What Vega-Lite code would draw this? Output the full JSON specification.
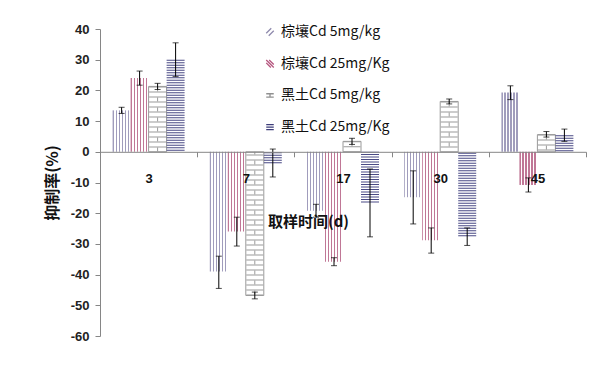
{
  "$schema": "https://vega.github.io/schema/vega-lite/v6.json",
  "width": 486,
  "height": 307,
  "autosize": {"type": "none"},
  "padding": {"left": 100, "top": 29, "right": 26, "bottom": 42},
  "background": "white",
  "config": {
    "view": {"stroke": null},
    "font": "Noto Sans CJK SC"
  },
  "data": {
    "values": [
      {"d": "3", "s": "棕壤Cd 5mg/kg", "v": 13.5, "lo": 12.5, "hi": 14.5},
      {"d": "3", "s": "棕壤Cd 25mg/Kg", "v": 24, "lo": 21.7, "hi": 26.3},
      {"d": "3", "s": "黑土Cd 5mg/kg", "v": 21.3, "lo": 20.3, "hi": 22.3},
      {"d": "3", "s": "黑土Cd 25mg/Kg", "v": 30, "lo": 24.5, "hi": 35.5},
      {"d": "7", "s": "棕壤Cd 5mg/kg", "v": -39, "lo": -44.5, "hi": -34},
      {"d": "7", "s": "棕壤Cd 25mg/Kg", "v": -26, "lo": -30.7, "hi": -21.3},
      {"d": "7", "s": "黑土Cd 5mg/kg", "v": -46.8, "lo": -47.9, "hi": -45.7},
      {"d": "7", "s": "黑土Cd 25mg/Kg", "v": -3.7, "lo": -8.2, "hi": 0.9},
      {"d": "17", "s": "棕壤Cd 5mg/kg", "v": -19.2, "lo": -21.3, "hi": -17.1},
      {"d": "17", "s": "棕壤Cd 25mg/Kg", "v": -35.8, "lo": -37.1, "hi": -34.5},
      {"d": "17", "s": "黑土Cd 5mg/kg", "v": 3.4, "lo": 2.4, "hi": 4.4},
      {"d": "17", "s": "黑土Cd 25mg/Kg", "v": -16.5, "lo": -27.7, "hi": -5.6},
      {"d": "30", "s": "棕壤Cd 5mg/kg", "v": -14.8, "lo": -23.5, "hi": -6.2},
      {"d": "30", "s": "棕壤Cd 25mg/Kg", "v": -28.8, "lo": -33, "hi": -24.8},
      {"d": "30", "s": "黑土Cd 5mg/kg", "v": 16.4, "lo": 15.6, "hi": 17.2},
      {"d": "30", "s": "黑土Cd 25mg/Kg", "v": -27.5, "lo": -30.5, "hi": -24.8},
      {"d": "45", "s": "棕壤Cd 5mg/kg", "v": 19.3, "lo": 17, "hi": 21.5},
      {"d": "45", "s": "棕壤Cd 25mg/Kg", "v": -10.8, "lo": -13.1, "hi": -8.5},
      {"d": "45", "s": "黑土Cd 5mg/kg", "v": 5.6, "lo": 4.8, "hi": 6.6},
      {"d": "45", "s": "黑土Cd 25mg/Kg", "v": 5.4, "lo": 3.4, "hi": 7.4}
    ]
  },
  "encoding": {
    "x": {
      "field": "d", "type": "nominal", "sort": ["3", "7", "17", "30", "45"],
      "scale": {"paddingInner": 0, "paddingOuter": 0},
      "axis": {
        "title": "取样时间(d)", "labelAngle": 0, "offset": -184.2, "zindex": 1,
        "tickBand": "extent", "tickSize": 5, "tickColor": "#868686", "domainColor": "#868686",
        "labelPadding": 16, "labelFont": "Liberation Sans", "labelFontWeight": "bold", "labelFontSize": 13, "labelColor": "#111",
        "titleFont": "Noto Sans CJK SC", "titleFontWeight": "bold", "titleFontSize": 15, "titleColor": "#111",
        "titleX": 208, "titleY": 70, "titleAlign": "center", "titleBaseline": "middle"
      }
    },
    "xOffset": {
      "field": "s", "type": "nominal",
      "sort": ["棕壤Cd 5mg/kg", "棕壤Cd 25mg/Kg", "黑土Cd 5mg/kg", "黑土Cd 25mg/Kg"],
      "scale": {"paddingInner": 0, "paddingOuter": 0.7}
    },
    "y": {
      "field": "v", "type": "quantitative",
      "scale": {"domain": [-60, 40], "nice": false},
      "axis": {
        "title": "抑制率(%)", "values": [-60, -50, -40, -30, -20, -10, 0, 10, 20, 30, 40], "grid": false,
        "labelExpr": "replace(datum.label, '−', '-')",
        "tickSize": 5, "tickColor": "#868686", "domainColor": "#868686", "labelPadding": 6,
        "labelFont": "Liberation Sans", "labelFontWeight": "bold", "labelFontSize": 13, "labelColor": "#222",
        "titleFont": "Noto Sans CJK SC", "titleFontWeight": "bold", "titleFontSize": 16, "titleColor": "#111", "titlePadding": 10
      }
    }
  },
  "layer": [
    {
      "transform": [{"filter": "datum.s === '棕壤Cd 5mg/kg'"}],
      "mark": {"type": "bar", "fill": {"gradient": "linear", "x1": 0, "y1": 0, "x2": 1, "y2": 0, "stops": [
        {"offset": 0, "color": "#a09cbc"}, {"offset": 0.07, "color": "#a09cbc"}, {"offset": 0.07, "color": "#ffffff"}, {"offset": 0.1667, "color": "#ffffff"},
        {"offset": 0.1667, "color": "#a09cbc"}, {"offset": 0.2367, "color": "#a09cbc"}, {"offset": 0.2367, "color": "#ffffff"}, {"offset": 0.3333, "color": "#ffffff"},
        {"offset": 0.3333, "color": "#a09cbc"}, {"offset": 0.4033, "color": "#a09cbc"}, {"offset": 0.4033, "color": "#ffffff"}, {"offset": 0.5, "color": "#ffffff"},
        {"offset": 0.5, "color": "#a09cbc"}, {"offset": 0.57, "color": "#a09cbc"}, {"offset": 0.57, "color": "#ffffff"}, {"offset": 0.6667, "color": "#ffffff"},
        {"offset": 0.6667, "color": "#a09cbc"}, {"offset": 0.7367, "color": "#a09cbc"}, {"offset": 0.7367, "color": "#ffffff"}, {"offset": 0.8333, "color": "#ffffff"},
        {"offset": 0.8333, "color": "#a09cbc"}, {"offset": 0.9033, "color": "#a09cbc"}, {"offset": 0.9033, "color": "#ffffff"}, {"offset": 1, "color": "#ffffff"}
      ]}},
      "encoding": {"y2": {"datum": 0}}
    },
    {
      "transform": [{"filter": "datum.s === '棕壤Cd 25mg/Kg'"}],
      "mark": {"type": "bar", "fill": {"gradient": "linear", "x1": 0, "y1": 0, "x2": 1, "y2": 0, "stops": [
        {"offset": 0, "color": "#c07796"}, {"offset": 0.07, "color": "#c07796"}, {"offset": 0.07, "color": "#ffffff"}, {"offset": 0.1667, "color": "#ffffff"},
        {"offset": 0.1667, "color": "#c07796"}, {"offset": 0.2367, "color": "#c07796"}, {"offset": 0.2367, "color": "#ffffff"}, {"offset": 0.3333, "color": "#ffffff"},
        {"offset": 0.3333, "color": "#c07796"}, {"offset": 0.4033, "color": "#c07796"}, {"offset": 0.4033, "color": "#ffffff"}, {"offset": 0.5, "color": "#ffffff"},
        {"offset": 0.5, "color": "#c07796"}, {"offset": 0.57, "color": "#c07796"}, {"offset": 0.57, "color": "#ffffff"}, {"offset": 0.6667, "color": "#ffffff"},
        {"offset": 0.6667, "color": "#c07796"}, {"offset": 0.7367, "color": "#c07796"}, {"offset": 0.7367, "color": "#ffffff"}, {"offset": 0.8333, "color": "#ffffff"},
        {"offset": 0.8333, "color": "#c07796"}, {"offset": 0.9033, "color": "#c07796"}, {"offset": 0.9033, "color": "#ffffff"}, {"offset": 1, "color": "#ffffff"}
      ]}},
      "encoding": {"y2": {"datum": 0}}
    },
    {
      "transform": [{"filter": "datum.s === '黑土Cd 5mg/kg'"}],
      "mark": {"type": "bar", "fill": "#ffffff", "stroke": "#9a9a9a", "strokeWidth": 1},
      "encoding": {"y2": {"datum": 0}}
    },
    {
      "transform": [{"filter": "datum.s === '黑土Cd 5mg/kg'"}],
      "mark": {"type": "rule", "stroke": "#9a9a9a", "strokeWidth": 17, "strokeDash": [1, 4]},
      "encoding": {"y2": {"datum": 0}}
    },
    {
      "transform": [{"filter": "datum.s === '黑土Cd 5mg/kg'"}],
      "mark": {"type": "rule", "stroke": "#9a9a9a", "strokeWidth": 1, "strokeDash": [4, 6], "strokeDashOffset": -1},
      "encoding": {"y2": {"datum": 0}}
    },
    {
      "transform": [{"filter": "datum.s === '黑土Cd 25mg/Kg'"}],
      "mark": {"type": "rule", "stroke": "#4a4a85", "strokeWidth": 18, "strokeDash": [1, 1.5]},
      "encoding": {"y2": {"datum": 0}}
    },
    {
      "mark": {"type": "rule", "stroke": "#000000", "strokeWidth": 1},
      "encoding": {"y": {"field": "lo", "type": "quantitative"}, "y2": {"field": "hi"}}
    },
    {
      "mark": {"type": "tick", "color": "#000000", "size": 6, "thickness": 1},
      "encoding": {"y": {"field": "lo", "type": "quantitative"}}
    },
    {
      "mark": {"type": "tick", "color": "#000000", "size": 6, "thickness": 1},
      "encoding": {"y": {"field": "hi", "type": "quantitative"}}
    },
    {
      "mark": {"type": "point", "filled": false, "opacity": 0},
      "encoding": {
        "color": {
          "field": "s", "type": "nominal",
          "scale": {"domain": ["棕壤Cd 5mg/kg", "棕壤Cd 25mg/Kg", "黑土Cd 5mg/kg", "黑土Cd 25mg/Kg"], "range": ["#8f8aad", "#b5557e", "#909090", "#3d3d7a"]},
          "legend": {
            "title": null, "orient": "none", "legendX": 163, "legendY": -4,
            "symbolOpacity": 1, "symbolStrokeWidth": 1.3, "symbolSize": 70, "symbolFillColor": "transparent",
            "labelFont": "Noto Sans CJK SC", "labelFontSize": 14, "labelColor": "#111", "labelLimit": 300,
            "rowPadding": 17.7, "labelOffset": 4
          }
        },
        "shape": {
          "field": "s", "type": "nominal",
          "scale": {"domain": ["棕壤Cd 5mg/kg", "棕壤Cd 25mg/Kg", "黑土Cd 5mg/kg", "黑土Cd 25mg/Kg"], "range": [
            "M-0.9,0.3L0.3,-0.9M-0.3,0.9L0.9,-0.3",
            "M-0.9,-0.9L0.9,0.9M-0.9,-0.2L0.2,0.9M-0.2,-0.9L0.9,0.2",
            "M-0.9,-0.4L0.9,-0.4M-0.9,0.4L0.9,0.4M0,-0.4L0,0.4",
            "M-0.9,-0.6L0.9,-0.6M-0.9,0L0.9,0M-0.9,0.6L0.9,0.6"
          ]}
        }
      }
    }
  ]
}
